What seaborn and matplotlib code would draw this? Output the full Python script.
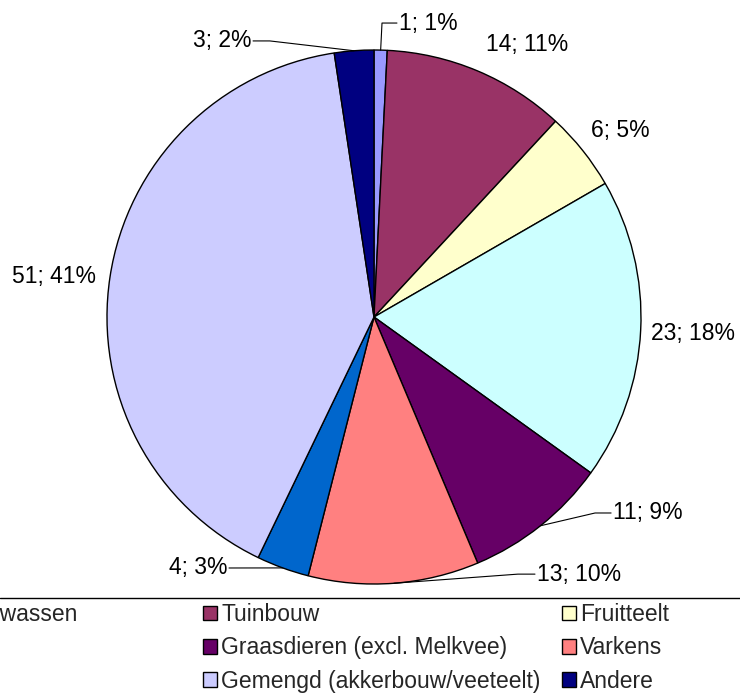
#%%
import numpy as np
import matplotlib
matplotlib.use("Agg")
import matplotlib.pyplot as plt
import seaborn as sns
from matplotlib.patches import Patch

#%%
# data (clockwise from 12 o'clock)
categories = ["Akkerbouwgewassen", "Tuinbouw", "Fruitteelt",
              "Melkvee", "Graasdieren (excl. Melkvee)", "Varkens",
              "Pluimvee", "Gemengd (akkerbouw/veeteelt)", "Andere"]
counts = [1, 14, 6, 23, 11, 13, 4, 51, 3]
percents = [1, 11, 5, 18, 9, 10, 3, 41, 2]
colors = ["#9999FF", "#993366", "#FFFFCC", "#CCFFFF", "#660066",
          "#FF8080", "#0066CC", "#CCCCFF", "#000080"]

#%%
sns.set_style("white")
plt.rcParams['font.family'] = ['Liberation Sans', 'DejaVu Sans']
fs = 16.5

fig = plt.figure(figsize=(7.4, 6.93), dpi=100)
ax = fig.add_axes([0, 0, 1, 1])

wedges, _ = ax.pie(counts, colors=sns.color_palette(colors), startangle=90,
                   counterclock=False, radius=1,
                   wedgeprops=dict(edgecolor="black", linewidth=1.0))

ax.set_xlim(-1.4007, 1.3708)
ax.set_ylim(-1.4082, 1.1873)
ax.set_aspect("equal", adjustable="box")
ax.axis("off")

# label layout: (text x, text y, ha, leader waypoints or None)
label_layout = [
    (0.095, 1.101, "left", [(0.030, 1.101), (0.086, 1.101)]),
    (0.573, 1.019, "center", None),
    (0.921, 0.700, "center", None),
    (1.195, -0.060, "center", None),
    (0.895, -0.734, "left", [(0.828, -0.734), (0.888, -0.734)]),
    (0.610, -0.963, "left", [(0.539, -0.963), (0.603, -0.963)]),
    (-0.550, -0.940, "right", [(-0.543, -0.940)]),
    (-1.199, 0.150, "center", None),
    (-0.460, 1.034, "right", [(-0.390, 1.034), (-0.453, 1.034)]),
]

for w, n, p, (tx, ty, ha, leader) in zip(wedges, counts, percents, label_layout):
    if leader is not None:
        ang = np.deg2rad((w.theta1 + w.theta2) / 2)
        xs = [np.cos(ang)] + [pt[0] for pt in leader]
        ys = [np.sin(ang)] + [pt[1] for pt in leader]
        ax.plot(xs, ys, color="black", linewidth=0.8)
    ax.text(tx, ty, f"{n}; {p}%", ha=ha, va="center", fontsize=fs, color="black")

# legend box top line
fig.add_artist(plt.Line2D([0, 1], [1 - 598 / 693, 1 - 598 / 693],
                          transform=fig.transFigure, color="black", linewidth=1.0))

# Excel-style legend: three equal-width columns, rows filled first
col_left = [-156 / 740, 203 / 740, 562 / 740]
for c in range(3):
    handles = [Patch(facecolor=colors[i], edgecolor="black", linewidth=1.0)
               for i in range(c, len(categories), 3)]
    leg = fig.legend(handles, categories[c::3], loc="upper left",
                     bbox_to_anchor=(col_left[c], 1 - 603 / 693),
                     frameon=False, fontsize=fs, borderpad=0, borderaxespad=0,
                     handlelength=0.6, handleheight=0.6, handletextpad=0.2,
                     labelspacing=0.45)

plt.savefig("out.png", dpi=100)
